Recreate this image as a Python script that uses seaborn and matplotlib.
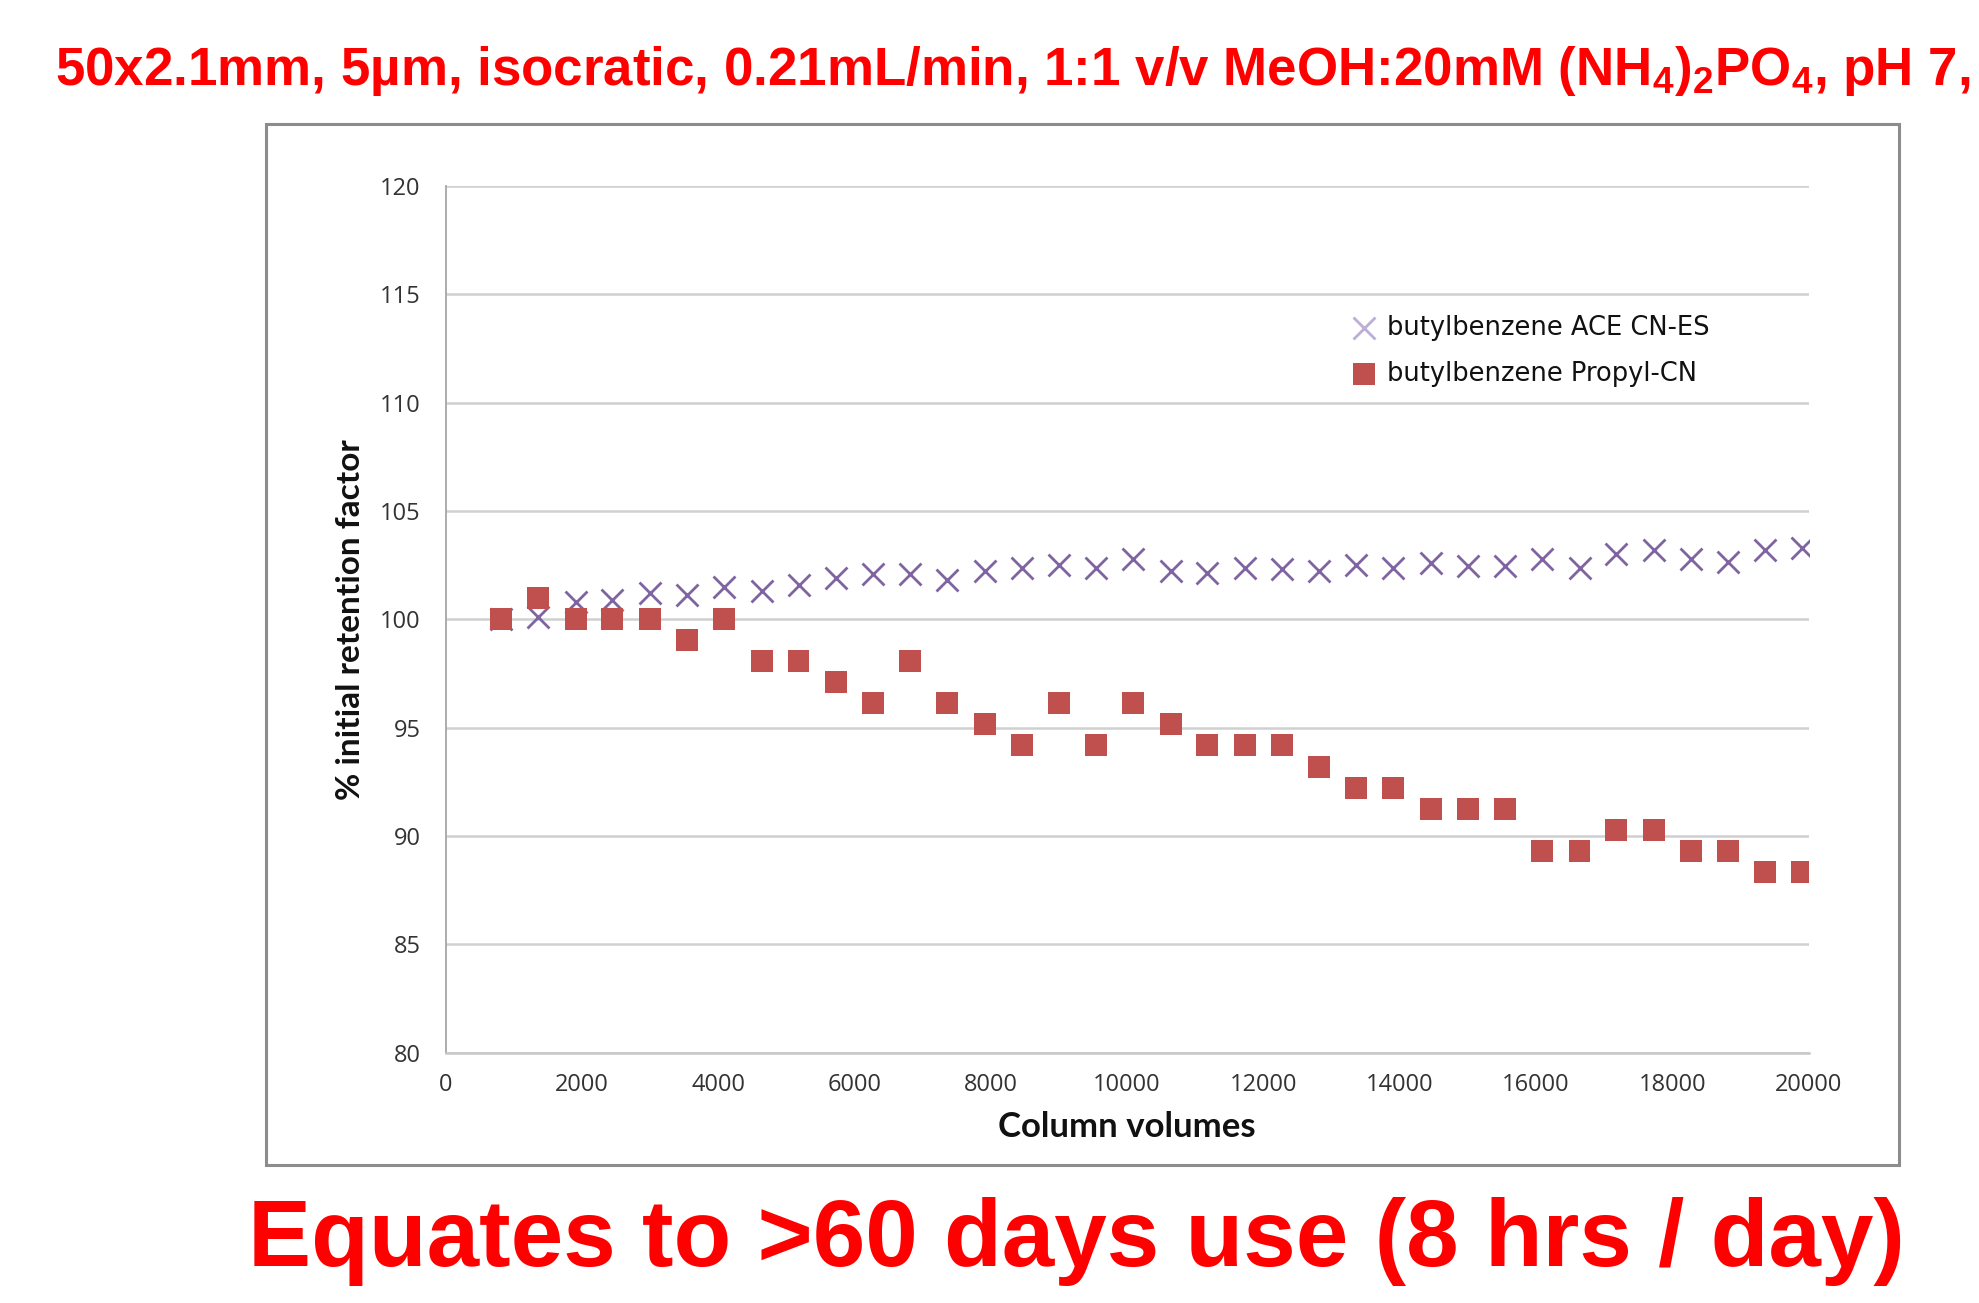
import matplotlib
matplotlib.use("Agg")
import matplotlib.pyplot as plt
import matplotlib.patches as mpatches
import seaborn as sns
import pandas as pd

# ---- data ----
column_volumes = [815, 1360, 1910, 2450, 3000, 3545, 4090, 4640, 5180, 5730,
                  6270, 6820, 7360, 7910, 8455, 9000, 9545, 10090, 10640, 11180,
                  11730, 12270, 12820, 13365, 13910, 14455, 15000, 15550, 16090, 16640,
                  17180, 17730, 18270, 18820, 19360, 19910]
ace_cn_es = [100.0, 100.1, 100.8, 100.9, 101.2, 101.1, 101.5, 101.3, 101.6, 101.9,
             102.1, 102.1, 101.8, 102.25, 102.35, 102.5, 102.35, 102.8, 102.25, 102.15,
             102.35, 102.3, 102.25, 102.5, 102.35, 102.6, 102.45, 102.45, 102.8, 102.35,
             103.0, 103.2, 102.8, 102.65, 103.2, 103.3]
propyl_cn = [100.0, 100.97, 100.0, 100.0, 100.0, 99.03, 100.0, 98.06, 98.06, 97.09,
             96.12, 98.06, 96.12, 95.15, 94.18, 96.12, 94.18, 96.12, 95.15, 94.18,
             94.18, 94.18, 93.2, 92.23, 92.23, 91.26, 91.26, 91.26, 89.32, 89.32,
             90.29, 90.29, 89.32, 89.32, 88.35, 88.35]
series_names = ["butylbenzene ACE CN-ES", "butylbenzene Propyl-CN"]
y_ticks = [80, 85, 90, 95, 100, 105, 110, 115, 120]
x_ticks = [0, 2000, 4000, 6000, 8000, 10000, 12000, 14000, 16000, 18000, 20000]
title_text = r"50x2.1mm, 5µm, isocratic, 0.21mL/min, 1:1 v/v MeOH:20mM (NH$_4$)$_2$PO$_4$, pH 7,"
bottom_text = "Equates to >60 days use (8 hrs / day)"
x_label = "Column volumes"
y_label = "% initial retention factor"

df = pd.DataFrame({"cv": column_volumes, "ace": ace_cn_es, "propyl": propyl_cn})

sns.set_theme(style="white")
plt.rcParams["font.family"] = ["DejaVu Sans"]
plt.rcParams["mathtext.fontset"] = "custom"
plt.rcParams["mathtext.rm"] = "Liberation Sans:bold"
plt.rcParams["mathtext.it"] = "Liberation Sans:bold"
plt.rcParams["mathtext.bf"] = "Liberation Sans:bold"
plt.rcParams["mathtext.default"] = "rm"

W, H = 1979, 1303
fig = plt.figure(figsize=(W / 100, H / 100), dpi=100)
fig.patch.set_facecolor("white")

# plot area
L, R, T, B = 445.5, 1808.5, 186, 1052.5
ax = fig.add_axes([L / W, 1 - B / H, (R - L) / W, (B - T) / H])

purple = "#8064A2"
red = "#C0504D"

sns.scatterplot(data=df, x="cv", y="ace", ax=ax, marker="x", color=purple,
                s=250, linewidth=2.0, label=series_names[0], zorder=3)
sns.scatterplot(data=df, x="cv", y="propyl", ax=ax, marker="s", color=red,
                s=250, linewidth=0, edgecolor="none", label=series_names[1], zorder=4)

ax.set_xlim(0, 20000)
ax.set_ylim(80, 120)
ax.set_xticks(x_ticks)
ax.set_yticks(y_ticks)
ax.set_xticklabels([str(t) for t in x_ticks])
ax.set_yticklabels([str(t) for t in y_ticks])
ax.yaxis.grid(True, color="#d0d0d0", linewidth=1.8, zorder=0)
ax.xaxis.grid(False)
ax.set_axisbelow(True)
for side in ["top", "right"]:
    ax.spines[side].set_visible(False)
ax.spines["left"].set_color("#a6a6a6")
ax.spines["left"].set_linewidth(1.3)
ax.spines["bottom"].set_color("#c8c8c8")
ax.spines["bottom"].set_linewidth(1.8)
ax.tick_params(axis="both", length=0, labelsize=17, labelcolor="#333333")
ax.tick_params(axis="y", pad=18)
ax.tick_params(axis="x", pad=15)
for lab in ax.get_xticklabels() + ax.get_yticklabels():
    lab.set_fontfamily("Open Sans")

ax.set_xlabel(x_label, fontsize=25, fontweight="bold", fontfamily="Lato", color="#111111")
ax.set_ylabel(y_label, fontsize=24, fontweight="bold", fontfamily="Lato", color="#111111")
ax.xaxis.set_label_coords(0.5, (B - 1127) / (B - T))
ax.xaxis.label.set_verticalalignment("center")
ax.yaxis.set_label_coords((350 - L) / (R - L), 0.5)
ax.yaxis.label.set_verticalalignment("center")

leg = ax.legend(loc="upper left", bbox_to_anchor=(1351.5 / W, 1 - 315 / H),
                bbox_transform=fig.transFigure, frameon=False,
                prop={"family": "DejaVu Sans", "size": 18.5},
                handlelength=1.0, handletextpad=0.4, labelspacing=0.78,
                borderpad=0, borderaxespad=0, markerscale=1.0)
for t in leg.get_texts():
    t.set_color("#111111")
handles = leg.legend_handles
handles[0].set_color("#bcaed6")

# chart border box
fig.patches.append(mpatches.Rectangle((266 / W, 1 - 1164.5 / H), (1898.5 - 266) / W,
                                      (1164.5 - 124) / H, transform=fig.transFigure,
                                      fill=False, edgecolor="#8c8c8c", linewidth=2.2))

fig.text(55 / W, 1 - 71 / H, title_text, ha="left", va="center", color="#FF0000",
         fontsize=38.1, fontweight="bold", fontfamily="Liberation Sans")
fig.text(1076.5 / W, 1 - 1241 / H, bottom_text, ha="center", va="center", color="#FF0000",
         fontsize=68, fontweight="bold", fontfamily="Liberation Sans")

fig.savefig("out.png", dpi=100, facecolor="white")
